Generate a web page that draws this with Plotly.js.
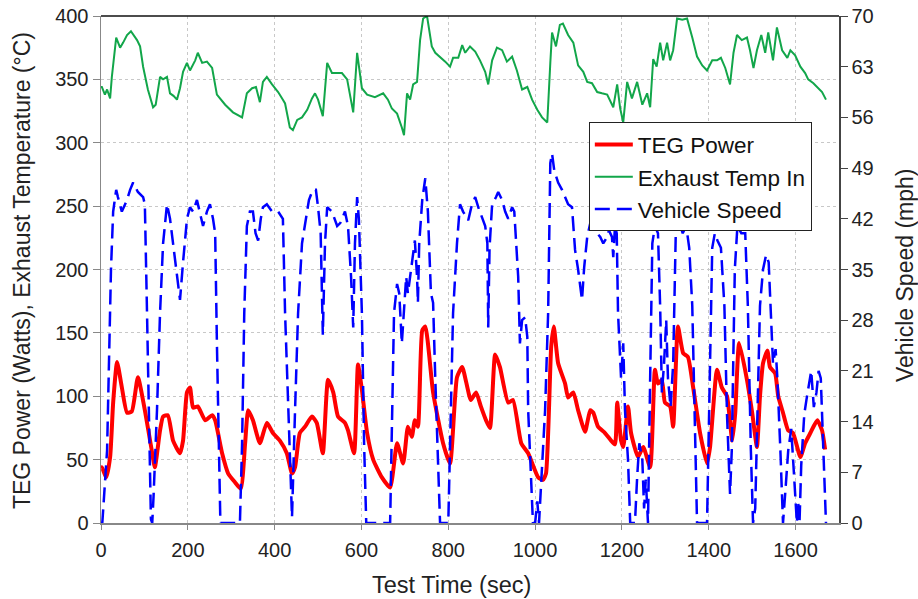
<!DOCTYPE html>
<html>
<head>
<meta charset="utf-8">
<script src="https://cdn.plot.ly/plotly-3.0.1.min.js"></script>
<style>html,body{margin:0;padding:0;background:#fff;}#chart{width:918px;height:599px;}</style>
</head>
<body>
<div id="chart"></div>
<script>
// TEG Power (Watts)
var timeTEG = [0,2,12,21,28,37,48,60,71,85,101,118,124,136,143,154,166,182,189,198,205,212,223,240,256,263,279,293,309,322,332,339,350,366,382,396,412,428,440,447,458,470,486,497,511,523,535,546,562,569,583,592,601,613,627,647,666,682,696,707,716,723,730,740,747,765,788,804,820,832,852,864,875,887,896,908,919,938,949,968,984,1007,1018,1025,1037,1043,1053,1069,1076,1088,1099,1115,1127,1134,1145,1161,1175,1184,1189,1198,1203,1214,1221,1237,1249,1265,1276,1283,1292,1299,1311,1318,1329,1341,1352,1364,1380,1396,1403,1419,1430,1442,1454,1461,1470,1488,1500,1511,1518,1525,1535,1541,1553,1560,1571,1583,1594,1611,1622,1634,1650,1661,1668];
var tegPower = [43,44,36,52,95,127,107,87,88,115,89,55,44,73,84,85,65,55,65,103,107,91,92,81,85,81,55,39,32,27,63,89,81,63,79,71,65,55,39,44,71,76,84,79,55,113,103,84,79,73,55,125,105,71,50,36,28,63,47,76,68,81,76,152,155,103,63,47,115,123,97,103,92,81,75,133,123,95,97,63,55,36,34,39,139,155,126,110,99,103,89,72,89,87,76,71,65,62,95,65,60,92,71,52,60,44,121,110,113,95,92,76,155,134,131,107,71,47,60,121,107,100,65,87,142,113,87,60,100,126,136,123,118,100,87,73,71,52,63,71,81,73,58];

// Exhaust Temp In (°C)
var timeTemp = [0,2,9,14,21,25,35,44,51,60,69,83,90,97,108,120,126,136,143,152,159,167,175,182,189,198,205,217,223,233,244,256,267,286,304,325,336,348,357,366,373,382,394,408,419,424,435,442,452,463,475,486,493,500,511,521,532,544,555,567,581,590,601,613,631,650,661,670,682,693,698,705,712,719,728,735,742,751,762,770,781,793,804,811,823,832,839,850,862,873,885,892,901,912,924,935,947,958,970,982,993,1005,1016,1028,1035,1039,1048,1057,1064,1076,1088,1099,1111,1120,1131,1143,1154,1166,1180,1189,1196,1203,1212,1223,1235,1247,1258,1265,1272,1280,1288,1295,1304,1311,1318,1327,1339,1350,1362,1373,1385,1396,1408,1419,1428,1438,1449,1457,1465,1476,1488,1495,1503,1511,1521,1530,1537,1548,1557,1569,1581,1588,1599,1611,1622,1629,1641,1650,1661,1670];
var exhaustTemp = [344,344,338,342,335,352,383,375,379,385,388,381,376,360,342,328,330,352,350,352,339,337,334,343,356,363,357,365,371,363,364,359,338,330,324,320,339,343,344,332,348,352,346,340,334,331,312,310,318,320,326,335,339,334,321,363,355,355,355,350,324,371,343,338,336,339,334,327,323,312,306,339,334,346,348,381,398,400,376,371,368,364,360,367,367,377,371,376,372,365,356,346,365,375,373,364,368,357,342,344,334,326,320,316,363,387,376,393,394,385,379,361,356,348,347,340,339,338,328,346,327,316,348,335,348,330,339,328,366,360,379,365,379,365,373,398,397,398,383,368,361,357,365,365,367,359,346,371,385,381,383,373,359,373,385,371,387,365,391,373,367,373,369,360,355,350,347,344,340,334];

// Vehicle Speed (mph)
var timeSpeed = [0,3,14,23,28,35,39,48,60,67,74,85,97,101,106,111,115,118,121,129,136,143,152,159,166,175,182,189,198,205,212,221,228,235,244,251,258,263,267,272,275,320,325,330,336,343,350,356,362,368,373,382,394,408,419,424,431,440,447,454,463,472,479,488,495,500,506,511,516,521,532,544,551,562,569,576,581,585,590,594,601,606,611,666,670,675,682,687,693,698,703,707,714,719,723,728,730,733,740,747,753,760,765,770,777,781,800,804,811,820,827,834,843,846,853,862,869,878,885,890,892,895,901,910,915,924,931,938,947,952,956,961,965,970,977,982,984,991,995,1000,1005,1009,1016,1023,1030,1035,1039,1044,1053,1062,1069,1076,1085,1088,1092,1099,1108,1113,1120,1127,1134,1143,1150,1157,1166,1170,1177,1180,1184,1188,1191,1198,1203,1207,1214,1219,1230,1235,1240,1247,1251,1255,1260,1265,1270,1276,1283,1288,1292,1297,1302,1306,1312,1318,1324,1330,1340,1348,1355,1362,1368,1373,1396,1402,1408,1414,1420,1428,1436,1442,1449,1453,1460,1466,1475,1484,1490,1497,1502,1507,1512,1518,1525,1532,1538,1544,1548,1554,1558,1565,1571,1576,1583,1590,1595,1600,1603,1606,1609,1613,1620,1625,1630,1636,1642,1648,1653,1658,1664,1670];
var vehicleSpeed = [0,0,10,35,43,46,45,43,44.6,46,47,45.7,45,44,29,11,0.5,0,3.6,15.6,29,38.6,44,42,38.6,34,30.8,36,42,43.6,43,44.6,43,41,43,44,42,40,24.8,6.3,0,0,11,29,41,43,43,40,39,42,43.6,44,43,43,42,29,15.6,0.8,15.6,29,38.6,42,44.6,46,46,43.6,40,26,38.6,43.6,43,41,41.4,43,41,34,27,38.6,45,42,29,11,0,0,11,29,33,31.7,24.8,29,34,31.7,35,37.7,39,34,30.4,38.6,44.6,47.6,43,31.7,30.4,20,6.3,0,0,11,29,38.6,44,43,42,41.8,43.6,45,43.6,42,41,38.6,27,38,44,45,45.7,44.6,43,42,43.6,43,38.6,34,24.8,28,28.4,25.7,15.6,4,0,0,3,0,8,15.6,29,49.7,51,48.7,47,46,45,44,43.6,40.4,37.7,35,30.8,35.3,39.5,41.4,41,40,39.5,38.6,39.5,40.4,39.5,36.7,41,40,29,20,24.8,15.6,8.7,0,0,6.3,11,8.7,2,6,0,20,38.6,41,40,30,18,22,28,20,16,22,40,42,40,41,38,30,12,0,0,18,38,40,39,38,30,15,4,10,35,41,40,40,30,10,0,2,15,30,35,37,36,28,22,24,20,10,0,4,10,13,8,2,0,3,0,8,15,17,19,21,16,18,21,20,10,0];

var FONT = 'Arial, "Liberation Sans", Helvetica, sans-serif';

var traces = [
  {x: timeTEG, y: tegPower, name: 'TEG Power', type: 'scatter', mode: 'lines',
   line: {color: '#ff0000', width: 4, shape: 'spline', smoothing: 0.5}},
  {x: timeTemp, y: exhaustTemp, name: 'Exhaust Temp In', type: 'scatter', mode: 'lines',
   line: {color: '#12a64a', width: 2}},
  {x: timeSpeed, y: vehicleSpeed, name: 'Vehicle Speed', type: 'scatter', mode: 'lines', yaxis: 'y2',
   line: {color: '#0000ff', width: 2.5, dash: '15px,7px'}}
];

var layout = {
  width: 918, height: 599,
  margin: {l: 101, r: 79, t: 16, b: 76},
  paper_bgcolor: '#ffffff', plot_bgcolor: '#ffffff',
  font: {family: FONT, size: 20, color: '#222'},
  showlegend: true,
  legend: {x: 0.661, y: 0.79, xanchor: 'left', yanchor: 'top',
    bgcolor: '#ffffff', bordercolor: '#222', borderwidth: 1, itemwidth: 38,
    font: {family: FONT, size: 22.5, color: '#111'}, traceorder: 'normal'},
  xaxis: {range: [0, 1700], dtick: 200, tick0: 0, showgrid: true,
    gridcolor: '#c8c8c8', griddash: 'dot', gridwidth: 1,
    showline: true, linecolor: '#888', linewidth: 1.5,
    ticks: 'outside', ticklen: 5, tickcolor: '#888', zeroline: false,
    ticklabelstandoff: 3,
    tickfont: {size: 20, color: '#222'}},
  yaxis: {range: [0, 400], dtick: 50, tick0: 0, showgrid: true,
    gridcolor: '#c8c8c8', griddash: 'dot', gridwidth: 1,
    showline: true, linecolor: '#888', linewidth: 1.5,
    ticks: 'outside', ticklen: 7, tickcolor: '#888', zeroline: false,
    tickfont: {size: 20, color: '#222'}},
  yaxis2: {range: [0, 70], dtick: 7, tick0: 0, overlaying: 'y', side: 'right',
    showgrid: false, showline: true, linecolor: '#444', linewidth: 1.5,
    ticks: 'outside', ticklen: 7, tickcolor: '#444', zeroline: false,
    tickfont: {size: 20, color: '#222'}},
  shapes: [
    {type: 'line', xref: 'paper', yref: 'paper', x0: 0, x1: 1, y0: 1, y1: 1,
     line: {color: '#111', width: 1.5}}
  ],
  annotations: [
    {text: 'Test Time (sec)', xref: 'paper', yref: 'paper', x: 0.475, y: -0.122,
     xanchor: 'center', yanchor: 'middle', showarrow: false,
     font: {family: FONT, size: 23.5, color: '#222'}},
    {text: 'TEG Power (Watts), Exhaust Temperature (°C)', xref: 'paper', yref: 'paper',
     x: -0.107, y: 0.497, xanchor: 'center', yanchor: 'middle', textangle: -90, showarrow: false,
     font: {family: FONT, size: 23, color: '#222'}},
    {text: 'Vehicle Speed (mph)', xref: 'paper', yref: 'paper',
     x: 1.0894, y: 0.489, xanchor: 'center', yanchor: 'middle', textangle: -90, showarrow: false,
     font: {family: FONT, size: 23, color: '#222'}}
  ]
};

Plotly.newPlot('chart', traces, layout, {displayModeBar: false, staticPlot: true});
</script>
</body>
</html>
